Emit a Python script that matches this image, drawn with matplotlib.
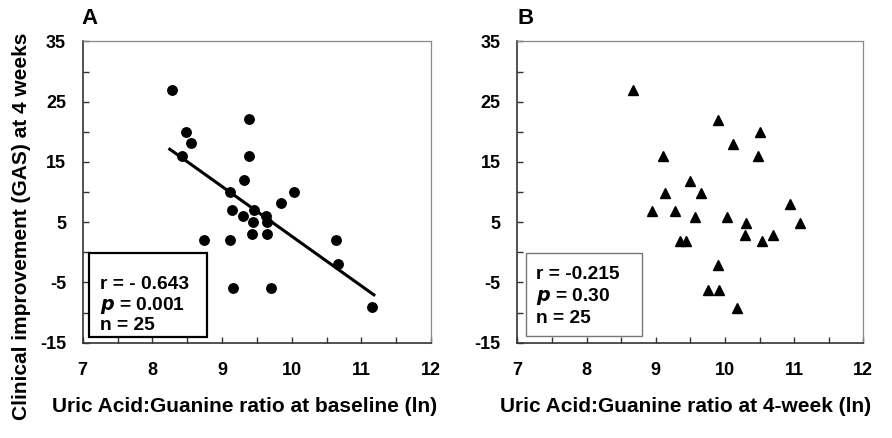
import matplotlib.pyplot as plt
import numpy as np
from matplotlib.ticker import MultipleLocator
from matplotlib.patches import Rectangle

plt.rcParams['font.family'] = ['Liberation Sans', 'DejaVu Sans']
plt.rcParams['axes.unicode_minus'] = False
plt.rcParams['xtick.labelsize'] = 13
plt.rcParams['ytick.labelsize'] = 13
plt.rcParams['font.weight'] = 'bold'
plt.rcParams['axes.labelweight'] = 'bold'
plt.rcParams['mathtext.default'] = 'regular'

# Panel A: baseline ratio vs GAS improvement
base_x = [8.28, 8.49, 8.56, 8.43, 9.39, 9.39, 9.31, 9.12, 10.04, 9.85,
          9.14, 9.46, 9.30, 9.63, 9.44, 9.64, 9.43, 9.65, 8.74, 9.11,
          10.63, 10.66, 9.16, 9.71, 11.16]
base_y = [27.0, 20.0, 18.1, 16.0, 22.1, 16.0, 12.0, 10.0, 10.0, 8.1,
          7.0, 7.0, 6.1, 6.1, 5.0, 5.0, 3.0, 3.0, 2.0, 2.0,
          2.0, -1.9, -6.0, -6.0, -9.0]

# Panel B: 4-week ratio vs GAS improvement
wk4_x = [8.67, 9.90, 10.11, 10.50, 10.48, 9.10, 9.50, 9.65, 9.14, 8.94,
         9.28, 9.57, 10.03, 10.94, 11.09, 10.30, 10.29, 10.69, 10.54, 9.35,
         9.43, 9.90, 9.76, 9.91, 10.17]
wk4_y = [27.0, 21.9, 18.0, 19.9, 15.9, 15.9, 11.8, 9.9, 9.9, 6.9,
         6.9, 5.8, 5.8, 8.0, 4.9, 4.9, 2.8, 2.8, 1.9, 1.9,
         1.9, -2.1, -6.2, -6.2, -9.2]

stats_a = ["r = - 0.643", r"$\mathbf{\it{p}}$ = 0.001", "n = 25"]
stats_b = ["r = -0.215", r"$\mathbf{\it{p}}$ = 0.30", "n = 25"]

fig = plt.figure(figsize=(8.92, 4.38), dpi=100)
ax_a = fig.add_axes([0.0927, 0.2176, 0.3905, 0.6879])
ax_b = fig.add_axes([0.5800, 0.2176, 0.3879, 0.6879])


def style_axes(ax):
    ax.set_xlim(7, 12)
    ax.set_ylim(-15, 35)
    ax.xaxis.set_major_locator(MultipleLocator(1))
    ax.xaxis.set_minor_locator(MultipleLocator(0.5))
    ax.set_yticks([-15, -5, 5, 15, 25, 35])
    ax.yaxis.set_minor_locator(MultipleLocator(5))
    ax.tick_params(which='both', direction='in', length=4, width=1,
                   color='#333333')
    ax.tick_params(axis='x', which='major', pad=14)
    ax.tick_params(axis='y', which='major', pad=12)
    for side in ['left', 'bottom']:
        ax.spines[side].set_color('#333333')
        ax.spines[side].set_linewidth(1.2)
    for side in ['top', 'right']:
        ax.spines[side].set_color('#888888')
        ax.spines[side].set_linewidth(0.9)


style_axes(ax_a)
style_axes(ax_b)

# Panel A
ax_a.plot(base_x, base_y, 'o', color='black', markersize=6.8, zorder=3)
k, b = np.polyfit(base_x, base_y, 1)
xx = np.array([min(base_x) - 0.03, max(base_x) + 0.02])
ax_a.plot(xx, k * xx + b, color='black', linewidth=2.2, zorder=2)
ax_a.add_patch(Rectangle((0.019, 0.020), 0.337, 0.279, transform=ax_a.transAxes,
                         facecolor='white', edgecolor='black', linewidth=1.6,
                         zorder=4))
ax_a.text(0.049, 0.029, "\n".join(stats_a), transform=ax_a.transAxes,
          fontsize=13.8, va='bottom', ha='left', linespacing=1.09, zorder=5)
ax_a.set_xlabel("Uric Acid:Guanine ratio at baseline (ln)", fontsize=15)
ax_a.xaxis.set_label_coords(0.466, -0.18)
ax_a.set_ylabel("Clinical improvement (GAS) at 4 weeks", fontsize=15)
ax_a.yaxis.set_label_coords(-0.148, 0.387)

# Panel B
ax_b.plot(wk4_x, wk4_y, '^', color='black', markersize=7.5, zorder=3)
ax_b.add_patch(Rectangle((0.025, 0.022), 0.335, 0.277, transform=ax_b.transAxes,
                         facecolor='white', edgecolor='#777777', linewidth=1.0,
                         zorder=4))
ax_b.text(0.054, 0.052, "\n".join(stats_b), transform=ax_b.transAxes,
          fontsize=13.8, va='bottom', ha='left', linespacing=1.2, zorder=5)
ax_b.set_xlabel("Uric Acid:Guanine ratio at 4-week (ln)", fontsize=15)
ax_b.xaxis.set_label_coords(0.485, -0.18)

fig.text(0.100, 0.957, "A", fontsize=16, va='center', ha='center')
fig.text(0.589, 0.957, "B", fontsize=16, va='center', ha='center')

fig.savefig("out.png", dpi=100, facecolor='white')
